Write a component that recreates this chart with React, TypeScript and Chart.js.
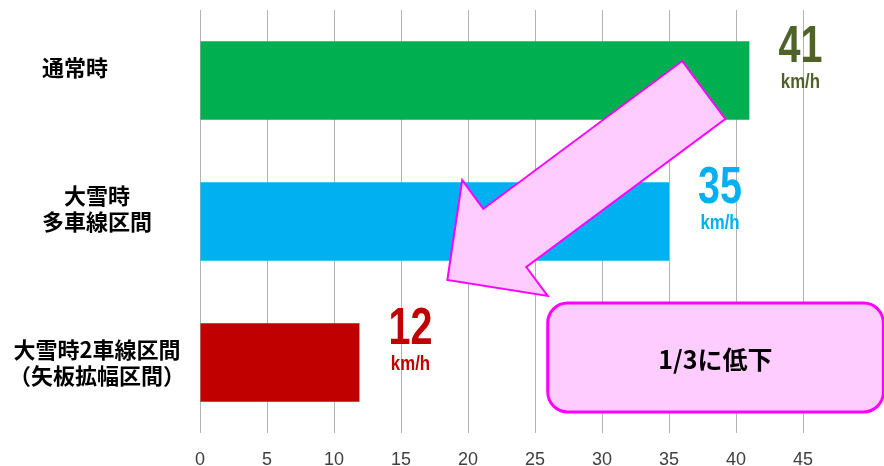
import React, { useEffect, useRef } from "react";
import { Chart, registerables } from "chart.js";

Chart.register(...registerables);

// ---- data ----
const categories: string[][] = [
  ["通常時　　", ""],
  ["大雪時", "多車線区間", ""],
  ["大雪時2車線区間", "（矢板拡幅区間）"],
];
const speeds: number[] = [41, 35, 11.9];
const speedLabels: string[] = ["41", "35", "12"];
const unitLabel = "km/h";
const barColors: string[] = ["#00B050", "#00B0F0", "#C00000"];
const labelColors: string[] = ["#4F6228", "#00B0F0", "#C00000"];
const xTickLabels: number[] = [0, 5, 10, 15, 20, 25, 30, 35, 40, 45];
const xMax = 50;
const calloutText = "1/3に低下";

// arrow outline in data space: [x value, category index]
const arrowShape: number[][] = [
  [35.99, -0.138],
  [39.2, 0.273],
  [24.35, 1.323],
  [25.95, 1.528],
  [18.46, 1.415],
  [19.57, 0.706],
  [21.14, 0.911],
];
// callout box in data space
const calloutX: number[] = [25.95, 51.0];
const calloutY: number[] = [1.578, 2.351];
const calloutTextPos: number[] = [38.46, 1.982];

const latinFont = '"Liberation Sans", Arial, sans-serif';
const cjkFont = '"Noto Sans CJK JP", "Noto Sans CJK SC", sans-serif';

function drawCondensed(
  ctx: CanvasRenderingContext2D,
  text: string,
  x: number,
  y: number,
  font: string,
  sx: number
) {
  ctx.save();
  ctx.font = font;
  ctx.textAlign = "center";
  ctx.textBaseline = "alphabetic";
  ctx.translate(x, y);
  ctx.scale(sx, 1);
  ctx.fillText(text, 0, 0);
  ctx.restore();
}

const annotationPlugin = {
  id: "annotations",
  afterDatasetsDraw(chart: any) {
    const ctx = chart.ctx as CanvasRenderingContext2D;
    const xs = chart.scales.x;
    const ys = chart.scales.y;
    ctx.save();

    // value labels
    speeds.forEach((v, i) => {
      const bx = xs.getPixelForValue(v);
      const cy = ys.getPixelForValue(i);
      const x = bx + 51;
      ctx.fillStyle = labelColors[i];
      drawCondensed(ctx, speedLabels[i], x, cy - 19, "bold 52px " + latinFont, 0.76);
      drawCondensed(ctx, unitLabel, x, cy + 7, "bold 21px " + latinFont, 0.8);
    });

    // callout box
    const bx0 = xs.getPixelForValue(calloutX[0]);
    const bx1 = xs.getPixelForValue(calloutX[1]);
    const by0 = ys.getPixelForValue(calloutY[0]);
    const by1 = ys.getPixelForValue(calloutY[1]);
    const r = 20;
    ctx.beginPath();
    ctx.moveTo(bx0 + r, by0);
    ctx.lineTo(bx1 - r, by0);
    ctx.arcTo(bx1, by0, bx1, by0 + r, r);
    ctx.lineTo(bx1, by1 - r);
    ctx.arcTo(bx1, by1, bx1 - r, by1, r);
    ctx.lineTo(bx0 + r, by1);
    ctx.arcTo(bx0, by1, bx0, by1 - r, r);
    ctx.lineTo(bx0, by0 + r);
    ctx.arcTo(bx0, by0, bx0 + r, by0, r);
    ctx.closePath();
    ctx.fillStyle = "#FFCCFF";
    ctx.fill();
    ctx.lineWidth = 3;
    ctx.strokeStyle = "#FF00FF";
    ctx.stroke();

    ctx.fillStyle = "#000000";
    ctx.font = "bold 25px " + cjkFont;
    ctx.textAlign = "center";
    ctx.textBaseline = "middle";
    ctx.fillText(
      calloutText,
      xs.getPixelForValue(calloutTextPos[0]),
      ys.getPixelForValue(calloutTextPos[1])
    );

    // arrow
    ctx.beginPath();
    arrowShape.forEach((p, i) => {
      const px = xs.getPixelForValue(p[0]);
      const py = ys.getPixelForValue(p[1]);
      if (i === 0) ctx.moveTo(px, py);
      else ctx.lineTo(px, py);
    });
    ctx.closePath();
    ctx.fillStyle = "#FFCCFF";
    ctx.fill();
    ctx.lineWidth = 2;
    ctx.lineJoin = "miter";
    ctx.strokeStyle = "#FF00FF";
    ctx.stroke();

    ctx.restore();
  },
};

export default function App() {
  const canvasRef = useRef<HTMLCanvasElement | null>(null);

  useEffect(() => {
    if (!canvasRef.current) return;
    const chart = new Chart(canvasRef.current, {
      type: "bar",
      data: {
        labels: categories as any,
        datasets: [
          {
            data: speeds,
            backgroundColor: barColors,
            borderWidth: 0,
            barPercentage: 0.555,
            categoryPercentage: 1,
          },
        ],
      },
      options: {
        indexAxis: "y",
        animation: false,
        responsive: true,
        maintainAspectRatio: false,
        layout: { padding: { top: 10, right: 14, left: 0, bottom: 0 } },
        plugins: {
          legend: { display: false },
          tooltip: { enabled: false },
        },
        scales: {
          x: {
            min: 0,
            max: xMax,
            border: { display: false },
            grid: {
              drawTicks: false,
              lineWidth: 1,
              color: (c: any) =>
                xTickLabels.includes(c.tick?.value) ? "#B3B3B3" : "rgba(0,0,0,0)",
            },
            ticks: {
              stepSize: 5,
              autoSkip: false,
              maxRotation: 0,
              padding: 16,
              color: "#404040",
              font: { family: latinFont, size: 18 },
              callback: (v: any) => (xTickLabels.includes(Number(v)) ? String(v) : ""),
            },
            afterFit: (s: any) => {
              s.height = 33;
              s.paddingLeft = 0;
              s.paddingRight = 0;
            },
          },
          y: {
            border: { display: false },
            grid: { display: false, drawTicks: false },
            ticks: {
              crossAlign: "center",
              padding: 15,
              color: "#000000",
              font: { family: cjkFont, size: 22, weight: "bold", lineHeight: 1.16 },
            },
            afterFit: (s: any) => {
              s.width = 200;
              s.paddingTop = 0;
              s.paddingBottom = 0;
            },
          },
        },
      },
      plugins: [annotationPlugin],
    });
    return () => chart.destroy();
  }, []);

  return (
    <div style={{ position: "absolute", left: 0, top: 0, width: 884, height: 466, background: "#fff" }}>
      <canvas ref={canvasRef} />
    </div>
  );
}
